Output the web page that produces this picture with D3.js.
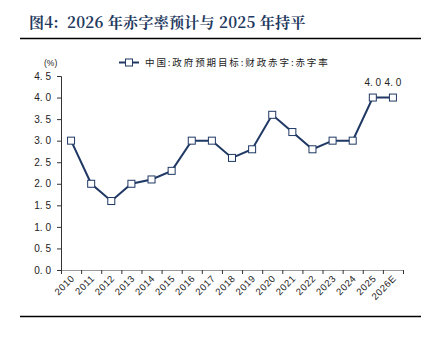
<!DOCTYPE html>
<html><head><meta charset="utf-8">
<script src="https://cdn.jsdelivr.net/npm/d3@7/dist/d3.min.js"></script>
<style>body{margin:0;background:#fff}</style>
</head><body>
<svg id="c" width="433" height="345"></svg>
<script>
const categories = ["2010","2011","2012","2013","2014","2015","2016","2017","2018","2019","2020","2021","2022","2023","2024","2025","2026E"];
const values = [3.0,2.0,1.6,2.0,2.1,2.3,3.0,3.0,2.6,2.8,3.6,3.2,2.8,3.0,3.0,4.0,4.0];
const yTicks = [0,0.5,1.0,1.5,2.0,2.5,3.0,3.5,4.0,4.5];
const labelled = ["2025","2026E"];
const seriesName = "中国:政府预期目标:财政赤字:赤字率";
const title = "图4:  2026 年赤字率预计与 2025 年持平";

(function(){
const svg = d3.select("#c");
const navy = "#1f3864";
const pL = 61, pR = 403, pT = 76, pB = 270;

svg.append("text").attr("x",29).attr("y",28).attr("fill","#1f3a60")
  .attr("font-family","'Noto Serif CJK SC','Noto Sans CJK SC',serif").attr("font-weight","bold")
  .attr("font-size",15).attr("letter-spacing",0.3).attr("xml:space","preserve").style("white-space","pre").text(title);
svg.append("line").attr("x1",20).attr("x2",421).attr("y1",38.5).attr("y2",38.5).attr("stroke","#000").attr("stroke-width",1.5);
svg.append("line").attr("x1",20).attr("x2",421).attr("y1",316.5).attr("y2",316.5).attr("stroke","#000").attr("stroke-width",1.5);

const x = d3.scaleBand().domain(categories).range([pL,pR]);
const y = d3.scaleLinear().domain([0,4.5]).range([pB,pT]);

const fmt = d => d.toFixed(1).replace(".", ". ");

const ya = svg.append("g").attr("transform",`translate(${pL},0)`)
  .call(d3.axisLeft(y).tickValues(yTicks).tickSize(4).tickFormat(fmt));
ya.select(".domain").attr("stroke","#333");
ya.selectAll(".tick line").attr("stroke","#333");
ya.selectAll("text").attr("font-family","'Liberation Sans',Arial,sans-serif").attr("font-size",10).attr("fill","#222").attr("dx",-3);

const xa = svg.append("g").attr("transform",`translate(0,${pB})`)
  .call(d3.axisBottom(x).tickSize(0).tickFormat(""));
xa.select(".domain").attr("stroke","#999");
const bounds = categories.map(c=>x(c)).concat([pR]);
svg.append("g").selectAll("line").data(bounds).join("line")
  .attr("x1",d=>d+0.5).attr("x2",d=>d+0.5).attr("y1",pB).attr("y2",pB+4).attr("stroke","#333");
svg.append("g").selectAll("text").data(categories).join("text")
  .attr("transform",d=>`translate(${x(d)+x.bandwidth()/2+4},${pB+9}) rotate(-45)`)
  .attr("text-anchor","end").attr("font-family","'Liberation Sans',Arial,sans-serif")
  .attr("font-size",9.5).attr("fill","#222").attr("letter-spacing",0.6).text(d=>d);

svg.append("text").attr("x",44).attr("y",66).attr("font-family","'Liberation Sans',Arial,sans-serif")
  .attr("font-size",8.5).attr("fill","#222").text("(%)");

const pts = categories.map((c,i)=>({c, v:values[i]}));
svg.append("path").datum(pts).attr("fill","none").attr("stroke",navy).attr("stroke-width",2)
  .attr("d", d3.line().x(d=>x(d.c)+x.bandwidth()/2).y(d=>y(d.v)));
svg.append("g").selectAll("rect").data(pts).join("rect")
  .attr("x",d=>x(d.c)+x.bandwidth()/2-3.5).attr("y",d=>y(d.v)-3.5).attr("width",7).attr("height",7)
  .attr("fill","#fff").attr("stroke",navy).attr("stroke-width",1);

svg.append("g").selectAll("text").data(pts.filter(d=>labelled.includes(d.c))).join("text")
  .attr("x",d=>x(d.c)+x.bandwidth()/2).attr("y",d=>y(d.v)-12)
  .attr("text-anchor","middle").attr("font-family","'Liberation Sans',Arial,sans-serif")
  .attr("font-size",10).attr("fill","#222").text(d=>fmt(d.v));

const lg = svg.append("g");
lg.append("line").attr("x1",119).attr("x2",139).attr("y1",62.5).attr("y2",62.5).attr("stroke",navy).attr("stroke-width",2);
lg.append("rect").attr("x",125.5).attr("y",59).attr("width",7).attr("height",7).attr("fill","#fff").attr("stroke",navy);
lg.append("text").attr("x",145).attr("y",66).attr("font-family","'Noto Sans CJK SC',sans-serif")
  .attr("font-size",9.5).attr("fill","#222").attr("letter-spacing",1.9).text(seriesName);
})();
</script>
</body></html>
